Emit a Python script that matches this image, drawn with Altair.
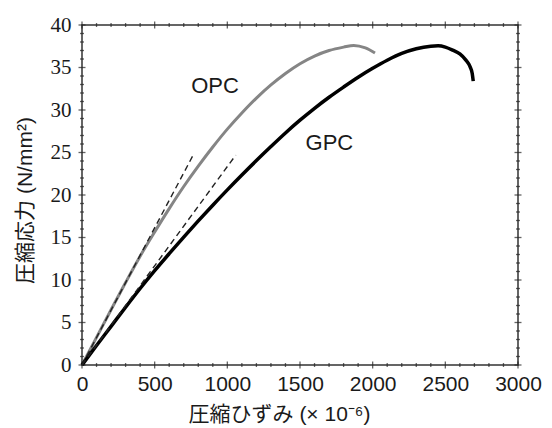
import altair as alt
import pandas as pd

# ---- data ----
opc_x = [0, 100, 200, 300, 400, 500, 600, 700, 800, 900, 1000, 1100, 1200, 1300,
         1400, 1500, 1600, 1700, 1800, 1870, 1950, 2016]
opc_y = [0, 3.25, 6.5, 9.7, 12.8, 15.65, 18.4, 21.0, 23.4, 25.65, 27.75, 29.65, 31.4, 32.95,
         34.3, 35.45, 36.35, 37.0, 37.4, 37.6, 37.3, 36.7]

gpc_x = [0, 100, 200, 300, 400, 500, 600, 700, 800, 900, 1000, 1100, 1200, 1300, 1400,
         1500, 1600, 1700, 1800, 1900, 2000, 2100, 2200, 2300, 2400, 2450, 2500, 2550,
         2600, 2640, 2670, 2685, 2692]
gpc_y = [0, 2.3, 4.55, 6.8, 9.0, 11.1, 13.1, 15.05, 16.95, 18.8, 20.6, 22.35, 24.05, 25.7, 27.3,
         28.8, 30.2, 31.5, 32.7, 33.85, 34.9, 35.85, 36.65, 37.2, 37.5, 37.55, 37.4, 37.05,
         36.6, 35.9, 35.1, 34.3, 33.4]

opc_tan_x = [0, 762]
opc_tan_y = [0, 24.6]
gpc_tan_x = [0, 1058]
gpc_tan_y = [0, 24.7]

label_text = ["OPC", "GPC"]
label_x = [915, 1702]
label_y = [32.8, 26.1]

x_major = [0, 500, 1000, 1500, 2000, 2500, 3000]
x_minor = [v for v in range(0, 3001, 100) if v % 500 != 0]
y_major = [0, 5, 10, 15, 20, 25, 30, 35, 40]
y_minor = [v for v in range(0, 41) if v % 5 != 0]

W, H = 436, 340
MAJ, MIN = 7, 4

# ---- tables ----
curves = pd.concat([
    pd.DataFrame({"strain": opc_x, "stress": opc_y, "series": "OPC", "order": range(len(opc_x))}),
    pd.DataFrame({"strain": gpc_x, "stress": gpc_y, "series": "GPC", "order": range(len(gpc_x))}),
])
tangents = pd.concat([
    pd.DataFrame({"strain": opc_tan_x, "stress": opc_tan_y, "series": "OPC"}),
    pd.DataFrame({"strain": gpc_tan_x, "stress": gpc_tan_y, "series": "GPC"}),
])
labels = pd.DataFrame({"text": label_text, "strain": label_x, "stress": label_y})

xticks_df = pd.concat([
    pd.DataFrame({"strain": x_major, "len": MAJ}),
    pd.DataFrame({"strain": x_minor, "len": MIN}),
])
yticks_df = pd.concat([
    pd.DataFrame({"stress": y_major, "len": MAJ}),
    pd.DataFrame({"stress": y_minor, "len": MIN}),
])

XS = alt.Scale(domain=[0, 3000], nice=False, zero=True)
YS = alt.Scale(domain=[0, 40], nice=False, zero=True)

SANS = "Liberation Sans, Noto Sans CJK JP"
SERIF = "Liberation Serif, Times New Roman, serif"
TICK = "#222222"

x_label_axis = alt.Axis(values=x_major, format="d", ticks=False, domain=False,
                        grid=False, labelFont=SANS, labelFontSize=21, labelColor="#1a1a1a",
                        labelPadding=8, labelFlush=False,
                        title="圧縮ひずみ (× 10⁻⁶)", titleFont=SANS, titleFontSize=21,
                        titleFontWeight="normal", titleColor="#1a1a1a",
                        titleX=197, titleY=49, titleAlign="center", titleBaseline="middle")
y_label_axis = alt.Axis(values=y_major, format="d", ticks=False, domain=False,
                        grid=False, labelFont=SERIF, labelFontSize=21, labelColor="#1a1a1a",
                        labelPadding=11, labelFlush=False,
                        title="圧縮応力 (N/mm²)", titleFont=SANS, titleFontSize=21,
                        titleFontWeight="normal", titleColor="#1a1a1a",
                        titleX=-57, titleY=175, titleAngle=270,
                        titleAlign="center", titleBaseline="middle")

lines = alt.Chart(curves).mark_line(interpolate="monotone").encode(
    x=alt.X("strain:Q", scale=XS, axis=x_label_axis),
    y=alt.Y("stress:Q", scale=YS, axis=y_label_axis),
    color=alt.Color("series:N", scale=alt.Scale(domain=["OPC", "GPC"],
                                                  range=["#858585", "#000000"]), legend=None),
    strokeWidth=alt.StrokeWidth("series:N", scale=alt.Scale(domain=["OPC", "GPC"],
                                                              range=[3, 3.5]), legend=None),
    order="order:Q",
)

dashed = alt.Chart(tangents).mark_line(strokeDash=[6, 4], strokeWidth=1.4, color="#222").encode(
    x=alt.X("strain:Q"),
    y=alt.Y("stress:Q"),
    detail="series:N",
)

xt_bottom = alt.Chart(xticks_df).mark_tick(orient="vertical", color=TICK, thickness=1.3).encode(
    x=alt.X("strain:Q"),
    y=alt.value(H),
    size=alt.Size("len:Q", scale=None, legend=None),
)
xt_top = alt.Chart(xticks_df).mark_tick(orient="vertical", color=TICK, thickness=1.3).encode(
    x=alt.X("strain:Q"),
    y=alt.value(0),
    size=alt.Size("len:Q", scale=None, legend=None),
)
yt_left = alt.Chart(yticks_df).mark_tick(orient="horizontal", color=TICK, thickness=1.3).encode(
    y=alt.Y("stress:Q"),
    x=alt.value(0),
    size=alt.Size("len:Q", scale=None, legend=None),
)
yt_right = alt.Chart(yticks_df).mark_tick(orient="horizontal", color=TICK, thickness=1.3).encode(
    y=alt.Y("stress:Q"),
    x=alt.value(W),
    size=alt.Size("len:Q", scale=None, legend=None),
)

text = alt.Chart(labels).mark_text(font=SANS, fontSize=22, color="#1a1a1a").encode(
    x=alt.X("strain:Q"),
    y=alt.Y("stress:Q"),
    text="text:N",
)

chart = alt.layer(lines, dashed, xt_bottom, xt_top, yt_left, yt_right, text).properties(
    width=W, height=H,
    autosize=alt.AutoSizeParams(type="none"),
    padding={"left": 74, "top": 17, "right": 26, "bottom": 62},
).configure_view(stroke="#333", strokeWidth=1.5)

chart.save("out.html", embed_options={"renderer": "svg", "actions": False})
